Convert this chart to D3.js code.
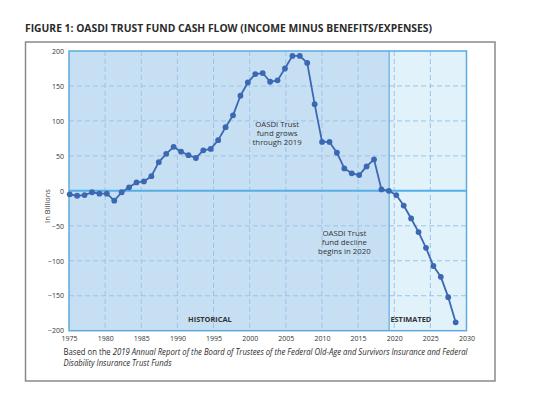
<!DOCTYPE html>
<html>
<head>
<meta charset="utf-8">
<script src="https://cdn.jsdelivr.net/npm/d3@7"></script>
<style>
  body { margin: 0; background: #fff; }
  svg { display: block; }
</style>
</head>
<body>
<svg id="chart" width="550" height="393"></svg>
<script>
// OASDI trust fund cash flow, billions of dollars (income minus cost)
var years = d3.range(1976, 2029);
var cashFlow = [
  -5, -7, -6, -2, -4, -4, -14, -2, 5, 12,
  13.5, 21, 41, 53, 63, 56, 51, 47, 58, 60,
  72.5, 91, 108, 136, 155, 167, 168.5, 156, 158, 175,
  193, 193, 183, 124, 70, 70, 54.5, 32, 25, 22.5,
  35, 45, 2, 0, -6, -21, -39.5, -59, -81.5, -107.5,
  -123, -152, -188
];
var xTicks = d3.range(1975, 2031, 5);
var yTicks = d3.range(-200, 201, 50);
var lastHistorical = 2019.3;
var notes = [
  { lines: ["OASDI Trust", "fund grows", "through 2019"], year: 2003.8, value: 92 },
  { lines: ["OASDI Trust", "fund decline", "begins in 2020"], year: 2013.1, value: -64 }
];

var svg = d3.select("#chart");
var font = "'Open Sans', 'DejaVu Sans', sans-serif";

var x = d3.scaleLinear().domain([1975, 2030]).range([69, 466.5]);
var y = d3.scaleLinear().domain([-200, 200]).range([330.7, 51]);
// points sit on an even grid of their own in the source chart
var px = d3.scalePoint().domain(years).range([x(1975.1), x(2028.5)]);

// outer frame
svg.append("rect")
    .attr("x", 25.5).attr("y", 42).attr("width", 469.5).attr("height", 339)
    .attr("fill", "none").attr("stroke", "#8a8a8a").attr("stroke-width", 1.5);

svg.append("text")
    .attr("x", 25).attr("y", 31.5)
    .attr("font-family", font).attr("font-weight", 700).attr("font-size", 10.6)
    .attr("fill", "#2b2b2b")
    .attr("textLength", 407).attr("lengthAdjust", "spacingAndGlyphs")
    .text("FIGURE 1: OASDI TRUST FUND CASH FLOW (INCOME MINUS BENEFITS/EXPENSES)");

// shaded periods
svg.append("rect")
    .attr("x", x(1975)).attr("y", y(200))
    .attr("width", x(lastHistorical) - x(1975)).attr("height", y(-200) - y(200))
    .attr("fill", "#c7dff3");
svg.append("rect")
    .attr("x", x(lastHistorical)).attr("y", y(200))
    .attr("width", x(2030) - x(lastHistorical)).attr("height", y(-200) - y(200))
    .attr("fill", "#e1f2fb");

// dashed grid
svg.append("g").selectAll("line")
    .data(xTicks.filter(function(d) { return d > 1975 && d < 2030; }))
    .join("line")
    .attr("x1", function(d) { return x(d); }).attr("x2", function(d) { return x(d); })
    .attr("y1", y(200)).attr("y2", y(-200))
    .attr("stroke", "#9bc4e8").attr("stroke-width", 1).attr("stroke-dasharray", "5,3");
svg.append("g").selectAll("line")
    .data(yTicks.filter(function(d) { return d > -200 && d < 200 && d !== 0; }))
    .join("line")
    .attr("x1", x(1975)).attr("x2", x(2030))
    .attr("y1", function(d) { return y(d); }).attr("y2", function(d) { return y(d); })
    .attr("stroke", "#9bc4e8").attr("stroke-width", 1).attr("stroke-dasharray", "5,3");

// separator, zero line, plot border
svg.append("line")
    .attr("x1", x(lastHistorical)).attr("x2", x(lastHistorical))
    .attr("y1", y(200)).attr("y2", y(-200))
    .attr("stroke", "#62abe0").attr("stroke-width", 1.2);
svg.append("line")
    .attr("x1", x(1975)).attr("x2", x(2030))
    .attr("y1", y(0)).attr("y2", y(0))
    .attr("stroke", "#55aee6").attr("stroke-width", 2);
svg.append("rect")
    .attr("x", x(1975)).attr("y", y(200))
    .attr("width", x(2030) - x(1975)).attr("height", y(-200) - y(200))
    .attr("fill", "none").attr("stroke", "#5eaade").attr("stroke-width", 1.5);

// axes
var xAxis = svg.append("g")
    .attr("transform", "translate(0," + y(-200) + ")")
    .call(d3.axisBottom(x).tickValues(xTicks).tickFormat(d3.format("d")).tickSize(0).tickPadding(5));
var yAxis = svg.append("g")
    .attr("transform", "translate(" + (x(1975) - 3) + ",0)")
    .call(d3.axisLeft(y).tickValues(yTicks).tickSize(0).tickPadding(2));
[xAxis, yAxis].forEach(function(g) {
  g.select(".domain").remove();
  g.selectAll("text").attr("font-family", font).attr("font-size", 7).attr("fill", "#333");
});

svg.append("text")
    .attr("transform", "translate(49.5,206) rotate(-90)")
    .attr("text-anchor", "middle")
    .attr("font-family", font).attr("font-size", 7.5).attr("fill", "#333")
    .text("In Billions");

// series
var series = years.map(function(yr, i) { return { year: yr, value: cashFlow[i] }; });
svg.append("path")
    .datum(series)
    .attr("fill", "none")
    .attr("stroke", "#3b68b2")
    .attr("stroke-width", 1.8)
    .attr("stroke-linejoin", "round")
    .attr("d", d3.line()
        .x(function(d) { return px(d.year); })
        .y(function(d) { return y(d.value); }));
svg.append("g").selectAll("circle")
    .data(series)
    .join("circle")
    .attr("cx", function(d) { return px(d.year); })
    .attr("cy", function(d) { return y(d.value); })
    .attr("r", 2.9)
    .attr("fill", "#3b68b2");

// annotations
notes.forEach(function(n) {
  svg.append("text")
      .attr("x", x(n.year)).attr("y", y(n.value))
      .attr("text-anchor", "middle")
      .attr("font-family", font).attr("font-size", 7.8).attr("fill", "#333")
      .selectAll("tspan")
      .data(n.lines)
      .join("tspan")
      .attr("x", x(n.year))
      .attr("dy", function(d, i) { return i ? 9.4 : 0; })
      .text(function(d) { return d; });
});

svg.append("text")
    .attr("x", x(1994.5)).attr("y", y(-188))
    .attr("text-anchor", "middle")
    .attr("font-family", font).attr("font-weight", 700).attr("font-size", 7.4).attr("fill", "#333")
    .text("HISTORICAL");
svg.append("text")
    .attr("x", x(2022.3)).attr("y", y(-188))
    .attr("text-anchor", "middle")
    .attr("font-family", font).attr("font-weight", 700).attr("font-size", 7.4).attr("fill", "#333")
    .text("ESTIMATED");

// source note
var note = svg.append("text")
    .attr("x", 63.5).attr("y", 355)
    .attr("font-family", font).attr("font-size", 8.3).attr("fill", "#2b2b2b")
    .attr("textLength", 404).attr("lengthAdjust", "spacingAndGlyphs");
note.append("tspan").text("Based on the ");
note.append("tspan").attr("font-style", "italic")
    .text("2019 Annual Report of the Board of Trustees of the Federal Old-Age and Survivors Insurance and Federal");
svg.append("text")
    .attr("x", 63.5).attr("y", 365.5)
    .attr("font-family", font).attr("font-size", 8.3).attr("font-style", "italic").attr("fill", "#2b2b2b")
    .attr("textLength", 108).attr("lengthAdjust", "spacingAndGlyphs")
    .text("Disability Insurance Trust Funds");
</script>
</body>
</html>
